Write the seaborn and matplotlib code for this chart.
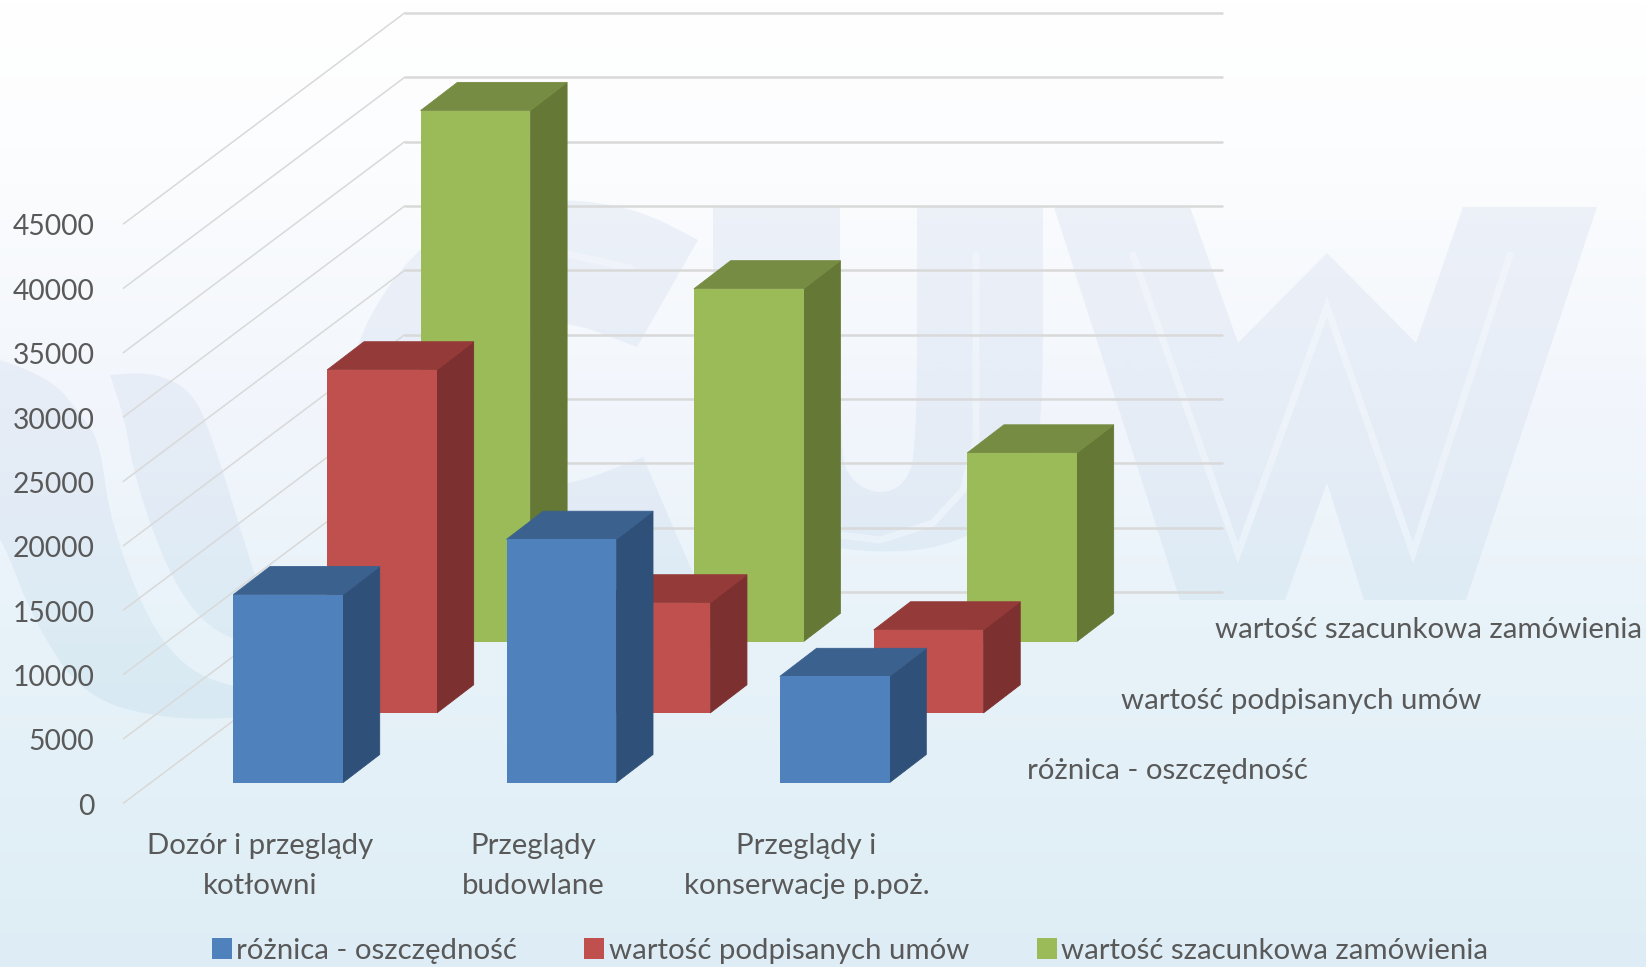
import numpy as np
import pandas as pd
import seaborn as sns
import matplotlib
matplotlib.use("Agg")
import matplotlib.pyplot as plt
from matplotlib.colors import LinearSegmentedColormap
from matplotlib.patches import Polygon, Patch
from matplotlib.transforms import ScaledTranslation

categories = ["Dozór i przeglądy\nkotłowni", "Przeglądy\nbudowlane", "Przeglądy i\nkonserwacje p.poż."]
roznica = [14600, 18900, 8250]
podpisane = [26650, 8550, 6450]
szacunkowa = [41250, 27400, 14650]
series_names = ["różnica - oszczędność", "wartość podpisanych umów", "wartość szacunkowa zamówienia"]
y_ticks = [0, 5000, 10000, 15000, 20000, 25000, 30000, 35000, 40000, 45000]

FRONT = ["#4f81bd", "#c0504d", "#9bbb59"]
SIDE = ["#2f5078", "#7d3030", "#657836"]
TOP = ["#3b618f", "#943a38", "#778c43"]
TXT = "#595959"
FONT = "Lato"
FS = 21.2

sns.set_theme(style="white")
plt.rcParams["font.family"] = [FONT, "DejaVu Sans"]

SW, SH = 1568.0, 921.0
AX_W = 781.0
fig = plt.figure(figsize=(16.46, 9.67), dpi=100)

def axes_at(left, zero_y):
    return fig.add_axes([left / SW, 1 - zero_y / SH, AX_W / SW, 613.0 / SH])

# background gradient and pale watermark (decorative shapes, full-size pixel coordinates)
bg = fig.add_axes([0, 0, 1, 1], zorder=0)
cmap = LinearSegmentedColormap.from_list("bg", [(0, "#ffffff"), (0.15, "#fcfdfe"), (0.42, "#f2f6fc"),
                                                (0.65, "#e8f3f9"), (1, "#deedf5")])
grad = np.linspace(0, 1, 256).reshape(-1, 1)
bg.imshow(grad, cmap=cmap, aspect="auto", extent=(0, 1646, 967, 0), vmin=0, vmax=1)

def smooth(pts, n=3):
    """Corner cutting; vertices given three times stay sharp."""
    out = []
    for p in pts:
        out.extend([p[:2]] * (3 if len(p) == 3 else 1))
    a = np.array(out, float)
    for _ in range(n):
        b = np.roll(a, -1, axis=0)
        a = np.column_stack([0.75 * a + 0.25 * b, 0.25 * a + 0.75 * b]).reshape(-1, 2)
    return a

S = 1
shapes = [
    [(-30, 350, S), (50, 377), (83, 417), (100, 443), (110, 520), (147, 620), (187, 670), (233, 687), (260, 690, S), (260, 717, S),
     (167, 720), (83, 697), (33, 620), (0, 533), (-30, 500, S)],
    [(110, 375, S), (150, 372), (187, 387), (207, 420), (253, 570), (270, 620, S), (270, 650, S), (233, 640), (200, 620), (167, 570), (135, 480), (125, 420)],
    [(340, 420), (360, 327), (420, 243), (490, 207), (567, 198), (640, 210), (698, 240, S), (637, 347, S), (567, 320),
     (510, 330), (480, 380), (470, 440), (500, 485), (567, 487), (643, 457, S), (693, 573, S), (600, 600), (500, 610),
     (400, 580), (350, 500)],
    [(713, 206, S), (840, 206, S), (840, 450), (850, 480), (878, 495), (905, 485), (917, 450), (917, 206, S), (1043, 206, S),
     (1043, 420), (1030, 480), (990, 525), (940, 548), (880, 553), (810, 545), (760, 515), (725, 465), (713, 410)],
    [(1054, 207, S), (1190, 207, S), (1238, 343, S), (1327, 253, S), (1416, 343, S), (1463, 207, S), (1597, 207, S), (1466, 600, S),
     (1364, 600, S), (1327, 483, S), (1285, 600, S), (1180, 600, S)],
]
mark_cmap = LinearSegmentedColormap.from_list("mark", ["#c4d2ea", "#c4d2ea", "#afd4e6"])
for pts in shapes:
    im = bg.imshow(grad, cmap=mark_cmap, aspect="auto", extent=(0, 1646, 720, 190), vmin=0, vmax=1, alpha=0.24)
    poly = Polygon(smooth(pts), fc="none", ec="none", transform=bg.transData)
    bg.add_patch(poly)
    im.set_clip_path(poly)
stripes = [
    [(1133, 255), (1238, 553), (1327, 307), (1413, 553), (1510, 255)],
    [(976, 255), (976, 440), (963, 490), (933, 523), (880, 540), (840, 535)],
    [(567, 254), (630, 268)],
]
for pts in stripes:
    xs, ys = zip(*pts)
    bg.plot(xs, ys, color="#f8fbfe", lw=5, alpha=0.45, solid_joinstyle="miter")
bg.set_xlim(0, 1646)
bg.set_ylim(967, 0)
bg.axis("off")

# front plane: value scale, category labels, walls
base = axes_at(117.5, 765)
base.set_zorder(1)
base.patch.set_alpha(0)
base.set_xlim(-0.5, 2.5)
base.set_ylim(0, 50000)
CAT_PX = AX_W / 3
V_PER_PX = 5000 / 61.3
DEPTH_X = 268 / CAT_PX
DEPTH_Y = 201 * V_PER_PX
for v in y_ticks:
    base.plot([-0.5, -0.5 + DEPTH_X], [v, v + DEPTH_Y], color="#d9d9d9", lw=1.1, clip_on=False, zorder=1)
    base.plot([-0.5 + DEPTH_X, 2.5 + DEPTH_X - 2 / CAT_PX], [v + DEPTH_Y, v + DEPTH_Y], color="#d9d9d9", lw=1.8, clip_on=False, zorder=1)
base.set_xticks(range(3), categories, color=TXT, fontsize=FS, linespacing=1.65)
base.set_yticks(y_ticks, [str(v) for v in y_ticks], color=TXT, fontsize=20.3)
base.tick_params(length=0)
base.tick_params(axis="x", pad=21.7)
base.tick_params(axis="y", pad=29 * 0.72)
for lab in base.get_yticklabels():
    lab.set_transform(lab.get_transform() + ScaledTranslation(0, -0.01, fig.dpi_scale_trans))
sns.despine(ax=base, left=True, bottom=True)

# series, one axes per depth row, back to front
rows = [(2, szacunkowa, 322.8, 611, 3), (1, podpisane, 233.8, 679, 4), (0, roznica, 144.3, 745.4, 5)]
BW = 104.5 / CAT_PX
DX = 35 / CAT_PX
DY = 26.8 * V_PER_PX
for idx, vals, left, zero, z in rows:
    ax = axes_at(left, zero)
    ax.set_zorder(z)
    ax.patch.set_alpha(0)
    df = pd.DataFrame({"kategoria": categories, "wartosc": vals})
    sns.barplot(df, x="kategoria", y="wartosc", color=FRONT[idx], saturation=1, width=BW, ax=ax, zorder=3,
                edgecolor="none", linewidth=0)
    for i, v in enumerate(vals):
        l, r = i - BW / 2, i + BW / 2
        ax.add_patch(Polygon([(r, 0), (r + DX, DY), (r + DX, v + DY), (r, v)], fc=SIDE[idx], ec=SIDE[idx], lw=0.6, clip_on=False, zorder=2))
        ax.add_patch(Polygon([(l, v), (l + DX, v + DY), (r + DX, v + DY), (r, v)], fc=TOP[idx], ec=TOP[idx], lw=0.6, clip_on=False, zorder=2))
    ax.text(2.705, 11 * V_PER_PX, series_names[idx], color=TXT, fontsize=FS, va="center", ha="left", clip_on=False)
    ax.set_xlim(-0.5, 2.5)
    ax.set_ylim(0, 50000)
    ax.axis("off")

handles = [Patch(fc=FRONT[i], ec="none", label=series_names[i]) for i in range(3)]
leg = fig.legend(handles=handles, loc="center", bbox_to_anchor=(809.5 / SW, 1 - 905.5 / SH), ncol=3, frameon=False,
                 fontsize=FS, labelcolor=TXT, handlelength=0.68, handleheight=0.68, handletextpad=0.14,
                 columnspacing=2.3, borderpad=0, borderaxespad=0)

fig.savefig("out.png", dpi=100)
